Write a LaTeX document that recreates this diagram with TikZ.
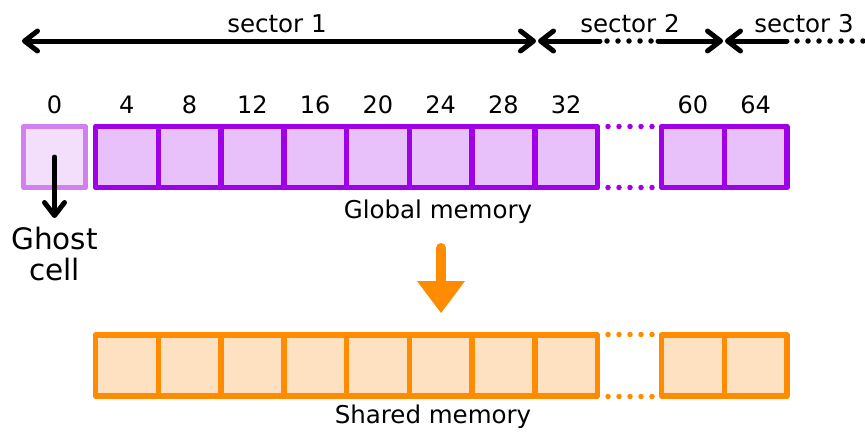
\documentclass[tikz,border=0pt]{standalone}
\usepackage{fontspec}
\setmainfont{DejaVu Sans}
\usetikzlibrary{arrows.meta}
\definecolor{gstroke}{RGB}{160,0,232}
\definecolor{gfill}{RGB}{232,192,250}
\definecolor{hstroke}{RGB}{210,128,240}
\definecolor{hfill}{RGB}{243,222,251}
\definecolor{sstroke}{RGB}{255,140,0}
\definecolor{sfill}{RGB}{254,225,192}
\tikzset{
  cellbox/.style={draw, line width=5.5pt, line join=round, minimum width=62.75pt,
    minimum height=61pt, inner sep=0pt, outer sep=0pt},
  gcell/.style={cellbox, draw=gstroke, fill=gfill},
  hcell/.style={cellbox, draw=hstroke, fill=hfill, minimum width=62pt, line width=4.5pt},
  scell/.style={cellbox, draw=sstroke, fill=sfill},
  numlbl/.style={anchor=base, font=\fontsize{24}{28}\selectfont, inner sep=0pt},
  caption/.style={anchor=base, font=\fontsize{24.5}{28}\selectfont, inner sep=0pt},
  barb/.tip={Straight Barb[length=13pt, width=20pt, line cap=round, line join=round]},
  span/.style={line width=5pt, line cap=round},
  dotrow/.style={line width=5.5pt, line cap=round, dash pattern=on 0pt off 11pt},
}
\begin{document}
\begin{tikzpicture}[x=1pt, y=-1pt]
\useasboundingbox (0,0) rectangle (865,434);

% ghost cell
\node[hcell] (h0) at (54.5,157) {};

% global memory cells
\foreach \i/\v in {1/4,2/8,3/12,4/16,5/20,6/24,7/28,8/32} {
  \node[gcell] (g\i) at ({95.5+62.75*(\i-0.5)},157) {};
  \node[numlbl] (n\i) at ({95.5+62.75*(\i-0.5)},113) {\v};
}
\foreach \i/\v in {9/60,10/64} {
  \node[gcell] (g\i) at ({661.5+62.75*(\i-8.5)},157) {};
  \node[numlbl] (n\i) at ({661.5+62.75*(\i-8.5)},113) {\v};
}
\node[numlbl] (n0) at (54.5,113) {0};

% shared memory cells
\foreach \i in {1,...,8} {
  \node[scell] (s\i) at ({95.5+62.75*(\i-0.5)},365.5) {};
}
\foreach \i in {9,10} {
  \node[scell] (s\i) at ({661.5+62.75*(\i-8.5)},365.5) {};
}

% gaps between the cell groups
\draw[dotrow, gstroke] (608,126.5) -- (653,126.5);
\draw[dotrow, gstroke] (608,187.5) -- (653,187.5);
\draw[dotrow, sstroke] (608,334.5) -- (653,334.5);
\draw[dotrow, sstroke] (608,396.5) -- (653,396.5);

% captions
\node[caption] (glab) at (438,218) {Global memory};
\node[caption] (slab) at (433,423) {Shared memory};
\node[align=center, font=\fontsize{29.5}{31}\selectfont, inner sep=0pt, anchor=north]
  (ghostlbl) at (54.5,227) {Ghost\\cell};

% ghost cell pointer
\draw[span, -barb] (h0.center) -- ([yshift=9pt]ghostlbl.north);

% copy arrow from global to shared memory
\coordinate (cpA) at (441,248);
\coordinate (cpB) at (441,287);
\draw[line width=10pt, line cap=round, sstroke] (cpA) -- (cpB);
\fill[sstroke] (417,281) -- (465,281) -- (441,313) -- cycle;

% sector spans
\coordinate (a1) at (22,41);
\coordinate (a2) at (536,41);
\coordinate (b1) at (538,41);
\coordinate (b2) at (600,41);
\coordinate (b3) at (658,41);
\coordinate (b4) at (723,41);
\coordinate (c1) at (725,41);
\coordinate (c2) at (787,41);
\draw[span, barb-barb] (a1) -- (a2);
\draw[span, barb-] (b1) -- (b2);
\draw[dotrow] (607,41) -- (653,41);
\draw[span, -barb] (b3) -- (b4);
\draw[span, barb-] (c1) -- (c2);
\draw[dotrow] (797,41) -- (865,41);

\node[caption] (t1) at (277,32) {sector 1};
\node[caption] (t2) at (630,32) {sector 2};
\node[caption] (t3) at (804,32) {sector 3};
\end{tikzpicture}
\end{document}
